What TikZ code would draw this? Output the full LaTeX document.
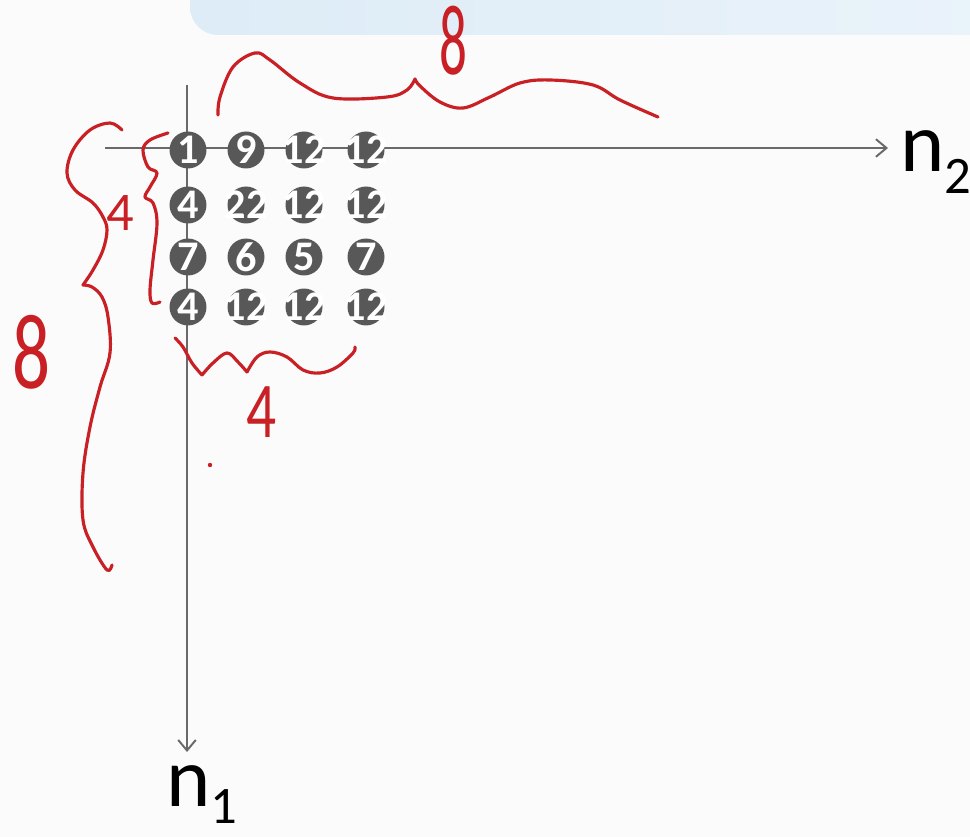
\documentclass[tikz,border=0pt]{standalone}
\usepackage{fontspec}
\setmainfont{Carlito}
\usetikzlibrary{arrows.meta}

\definecolor{ink}{RGB}{200,32,36}
\definecolor{axisgray}{RGB}{105,105,105}
\definecolor{dotgray}{RGB}{88,88,88}
\definecolor{bandl}{RGB}{221,236,247}
\definecolor{bandr}{RGB}{234,243,250}

\begin{document}
\begin{tikzpicture}[x=0.02cm,y=-0.02cm,
  axis/.style={draw=axisgray,line width=1.1pt,-{Straight Barb[length=6pt,width=10pt,line width=1.1pt]}},
  dot/.style={circle,fill=dotgray,minimum size=0.74cm,inner sep=0pt,text=white,
    font=\fontsize{24}{24}\selectfont\bfseries},
  pen/.style={draw=ink,line width=1.8pt,line cap=round,line join=round},
  hand/.style={text=ink,inner sep=0pt},
  axlabel/.style={inner sep=0pt,anchor=base west,font=\fontsize{48}{48}\selectfont}]
  \useasboundingbox[fill=gray!3] (0,0) rectangle (970,837);
  % band at the top
  \shade[left color=bandl,right color=bandr,rounded corners=16pt] (190,-40) rectangle (1010,35);

  % axes
  \coordinate (h0) at (105,148);
  \coordinate (h1) at (888,148);
  \coordinate (v0) at (187,85);
  \coordinate (v1) at (187,752);
  \draw[axis] (h0) -- (h1);
  \draw[axis] (v0) -- (v1);
  \node[axlabel] (n2) at (900,172) {n\raisebox{-12pt}{\fontsize{30}{30}\selectfont 2}};
  \node[axlabel] (n1) at (166,806) {n\raisebox{-10pt}{\fontsize{30}{30}\selectfont 1}};

  % 4x4 block of values
  \foreach \row/\y/\vals in {1/150/{1,9,12,12},2/205/{4,22,12,12},3/257/{7,6,5,7},4/307/{4,12,12,12}}{
    \foreach \v [count=\col] in \vals {
      \pgfmathsetmacro{\x}{{188,246,304,366}[\col-1]}
      \node[dot] (c\row\col) at (\x,\y) {\makebox[0pt]{\v}};
    }
  }

  % red notes
  \draw[pen] plot[smooth,tension=0.6] coordinates {(218,115) (220,97) (233,67) (255,53) (270,60) (300,83) (333,98) (387,97) (407,90) (415,79)};
  \draw[pen] plot[smooth,tension=0.6] coordinates {(415,79) (420,86) (440,102) (463,108) (490,97) (520,83) (550,80) (593,85) (620,100) (658,117)};
  \node[hand,font=\fontsize{57}{57}\selectfont] (top8) at (453,41) {\scalebox{0.55}[1]{8}};

  \draw[pen] plot[smooth,tension=0.6] coordinates {(122,130) (110,123) (90,130) (73,150) (67,173) (75,190) (93,203) (103,217) (107,230) (103,250) (93,270) (83,285)};
  \draw[pen] plot[smooth,tension=0.6] coordinates {(83,285) (92,287) (102,297) (108,317) (110,353) (100,387) (90,427) (83,473) (83,520) (93,547) (107,570) (112,565)};
  \node[hand,font=\fontsize{61}{61}\selectfont] (left8) at (32,352) {\scalebox{0.7}[1]{8}};

  \draw[pen] plot[smooth,tension=0.6] coordinates {(168,133) (150,140) (143,150) (148,167) (157,173) (150,187) (145,197) (153,203) (157,223) (153,260) (150,290) (152,303) (160,302)};
  \node[hand,font=\fontsize{31}{31}\selectfont] (left4) at (120,213) {4};

  \draw[pen] plot[smooth,tension=0.6] coordinates {(175,338) (183,347) (192,363) (202,375)};
  \draw[pen] plot[smooth,tension=0.6] coordinates {(202,375) (213,363) (227,353) (238,362) (247,372)};
  \draw[pen] plot[smooth,tension=0.6] coordinates {(247,372) (257,357) (270,352) (287,357) (303,370) (320,373) (337,367) (353,353) (355,347)};
  \node[hand,font=\fontsize{45}{45}\selectfont] (low4) at (262,412) {\scalebox{0.75}[1]{4}};

  \fill[ink] (210,465) circle (2.2);
\end{tikzpicture}
\end{document}
